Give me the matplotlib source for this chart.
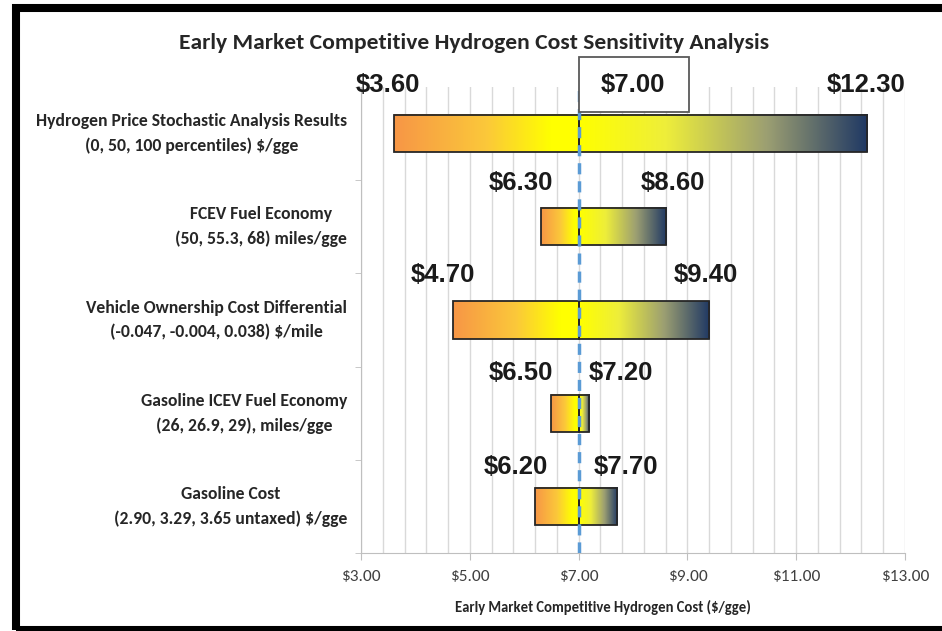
import numpy as np
import matplotlib
matplotlib.use('Agg')
import matplotlib.pyplot as plt
from matplotlib import font_manager
from matplotlib.colors import LinearSegmentedColormap
from matplotlib.patches import Rectangle

# data
categories = [
    'Hydrogen Price Stochastic Analysis Results\n(0, 50, 100 percentiles) $/gge',
    'FCEV Fuel Economy\n(50, 55.3, 68) miles/gge',
    'Vehicle Ownership Cost Differential\n(-0.047, -0.004, 0.038) $/mile',
    'Gasoline ICEV Fuel Economy\n(26, 26.9, 29), miles/gge',
    'Gasoline Cost\n(2.90, 3.29, 3.65 untaxed) $/gge',
]
low = [3.60, 6.30, 4.70, 6.50, 6.20]
high = [12.30, 8.60, 9.40, 7.20, 7.70]
base = 7.00
xticks = [3, 5, 7, 9, 11, 13]

# where the value labels sit (hand placed in the original)
low_lab_x = [3.50, 5.94, 4.51, 5.94, 5.85]
high_lab_x = [12.28, 8.74, 9.34, 7.78, 7.87]
lab_dy = [0.52, 0.47, 0.48, 0.43, 0.42]

installed = {f.name for f in font_manager.fontManager.ttflist}
body_font = 'Carlito' if 'Carlito' in installed else 'Lato'
if 'Liberation Sans Narrow' in installed:
    num_font = ['Liberation Sans Narrow', 'DejaVu Sans']
    num_size = 20
else:
    num_font = ['Liberation Sans', 'DejaVu Sans']
    num_size = 18.5

plt.rcParams['font.family'] = [body_font, 'DejaVu Sans']

fig = plt.figure(figsize=(9.42, 6.31), dpi=100)
W, H = 942, 631
ax = fig.add_axes([361 / W, 1 - 553 / H, (905 - 361) / W, (553 - 87) / H])

left_cmap = LinearSegmentedColormap.from_list(
    'lo', [(0, '#F79646'), (0.5, '#FBC83A'), (0.85, '#FFFF00'), (1, '#FFFF00')])
right_cmap = LinearSegmentedColormap.from_list(
    'hi', [(0, '#FFFF00'), (0.3, '#EEEE3A'), (0.65, '#9C9F72'), (1, '#1F3864')])
grad = np.linspace(0, 1, 256).reshape(1, -1)

bh = 0.4
for i in range(len(categories)):
    ax.imshow(grad, cmap=left_cmap, extent=(low[i], base, i + bh / 2, i - bh / 2),
              aspect='auto', zorder=2, interpolation='bilinear')
    ax.imshow(grad, cmap=right_cmap, extent=(base, high[i], i + bh / 2, i - bh / 2),
              aspect='auto', zorder=2, interpolation='bilinear')
y = np.arange(len(categories))
ax.barh(y, np.array([base] * 5) - np.array(low), left=low, height=bh, fill=False,
        edgecolor='#262626', lw=1.3, zorder=3)
ax.barh(y, np.array(high) - base, left=base, height=bh, fill=False,
        edgecolor='#262626', lw=1.3, zorder=3)

ax.axvline(base, color='#5B9BD5', lw=2.5, ls=(0, (3.2, 2)), zorder=5)

# value labels
for i in range(len(categories)):
    ax.text(low_lab_x[i], i - lab_dy[i], f'${low[i]:.2f}', ha='center', va='center',
            fontsize=num_size, fontweight='bold', color='#1a1a1a', zorder=7,
            clip_on=False, family=num_font)
    ax.text(high_lab_x[i], i - lab_dy[i], f'${high[i]:.2f}', ha='center', va='center',
            fontsize=num_size, fontweight='bold', color='#1a1a1a', zorder=7,
            clip_on=False, family=num_font)
ax.add_patch(Rectangle((7.0, -0.822), 2.03, 0.59, facecolor='white', edgecolor='#595959',
                       lw=1.3, zorder=6, clip_on=False))
ax.text(8.0, -0.52, f'${base:.2f}', ha='center', va='center', fontsize=num_size,
        fontweight='bold', color='#1a1a1a', zorder=7, clip_on=False, family=num_font)

ax.set_xlim(3, 13)
ax.set_ylim(4.5, -0.5)
ax.set_xticks(xticks)
ax.set_xticklabels([f'${v:.2f}' for v in xticks], fontsize=12.5, color='#404040')
ax.set_xticks(np.arange(3, 13.01, 0.4), minor=True)
ax.grid(True, which='both', axis='x', color='#D9D9D9', lw=1, zorder=0)
ax.set_axisbelow(True)
ax.tick_params(axis='x', which='major', length=5, color='#BFBFBF', pad=7)
ax.tick_params(axis='x', which='minor', length=0)

ax.set_yticks(y)
ax.set_yticklabels(categories, fontsize=11, fontweight='bold', color='#262626',
                   multialignment='center')
ax.set_yticks(np.arange(-0.5, 4.6, 1), minor=True)
ax.tick_params(axis='y', which='major', length=0, pad=10)
ax.tick_params(axis='y', which='minor', length=4, color='#BFBFBF')

for s in ['top', 'right']:
    ax.spines[s].set_visible(False)
for s in ['left', 'bottom']:
    ax.spines[s].set_color('#BFBFBF')

title = fig.text(474 / W, 1 - 43 / H, 'Early Market Competitive Hydrogen Cost Sensitivity Analysis',
                 ha='center', va='center', fontsize=13, fontweight='bold', color='#262626')
xlab = fig.text(603 / W, 1 - 607 / H, 'Early Market Competitive Hydrogen Cost ($/gge)',
                ha='center', va='center', fontsize=11, fontweight='bold', color='#262626')

# black frame round the picture (open on the right like the original crop)
fig.patches.append(Rectangle((16 / W, 1 - 630 / H), (1000 - 16) / W, (630 - 8) / H,
                             transform=fig.transFigure, fill=False, edgecolor='black',
                             lw=5.8, zorder=10))


def fit(txt, target_px):
    fig.canvas.draw()
    w = txt.get_window_extent(fig.canvas.get_renderer()).width
    txt.set_fontsize(txt.get_fontsize() * target_px / w)


fit(title, 588)
fit(xlab, 295)
fig.canvas.draw()
lab0 = ax.get_yticklabels()[0]
w0 = lab0.get_window_extent(fig.canvas.get_renderer()).width
fs = lab0.get_fontsize() * 311 / w0
for t in ax.get_yticklabels():
    t.set_fontsize(fs)
    t.set_linespacing(1.65)
    t.set_verticalalignment('center')

fig.savefig('out.png', dpi=100)
